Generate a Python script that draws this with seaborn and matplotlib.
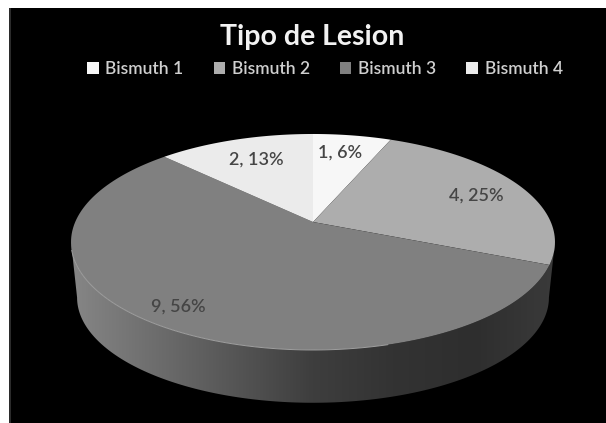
import matplotlib
matplotlib.use("Agg")
import matplotlib.pyplot as plt
import seaborn as sns
import numpy as np
from matplotlib.patches import Polygon, Rectangle
from matplotlib.transforms import Affine2D

sns.set_style("white")
plt.rcParams['font.family'] = ['Lato', 'DejaVu Sans']

categories = ["Bismuth 1", "Bismuth 2", "Bismuth 3", "Bismuth 4"]
values = [1, 4, 9, 2]
face_colors = ["#f7f7f7", "#adadad", "#808080", "#ebebeb"]
side_colors = ["#868686", "#6e6e6e", "#565656", "#3e3e3e", "#333333", "#2e2e2e", "#3a3a3a"]
label_pos = [(340, 153), (476, 196), (178, 307), (256, 160)]
title = "Tipo de Lesion"


def project(pts, cy=222.0, scale=1.0):
    # circle seen in perspective, near edge gets bigger
    k = 0.185
    w = 1 + k * pts[:, 1]
    x = 313 + 237.8 * scale * pts[:, 0] / w
    y = cy - 104.3 * scale * pts[:, 1] / w
    return np.column_stack([x, y])


fig = plt.figure(figsize=(6.06, 4.23), dpi=100, facecolor="white")
ax = fig.add_axes([0, 0, 1, 1])
ax.set_xlim(0, 606)
ax.set_ylim(423, 0)
ax.axis("off")
ax.add_patch(Rectangle((9, 8), 597, 415, color="black", lw=0))
ax.add_patch(Rectangle((9, 8), 2, 415, color="#2b2b2b", lw=0))

# let pie work out the slices on a scratch axes
fig2, ax2 = plt.subplots()
wedges, _ = ax2.pie(values, startangle=90, counterclock=False)

# side wall
t = np.linspace(np.pi + np.arcsin(0.185), 2 * np.pi - np.arcsin(0.185), 200)
arc = np.column_stack([np.cos(t), np.sin(t)])
wall = np.vstack([project(arc), project(arc, cy=278.0, scale=0.975)[::-1]])
wall_patch = Polygon(wall, closed=True, fc="none", ec="none")
ax.add_patch(wall_patch)
cmap = sns.blend_palette(side_colors, as_cmap=True)
im = ax.imshow(np.linspace(0, 1, 256)[None, :], cmap=cmap, extent=(71, 555, 405, 230),
               aspect="auto", zorder=2)
im.set_clip_path(wall_patch)
ax.set_xlim(0, 606)
ax.set_ylim(423, 0)

# top faces
handles = []
for w, c in zip(wedges, face_colors):
    path = w.get_patch_transform().transform_path(w.get_path())
    poly = path.to_polygons(Affine2D().scale(1000))[0] / 1000
    handles.append(ax.fill(*project(poly).T, color=c, lw=0, zorder=3)[0])

# pale rim on the front of the big slice
t = np.linspace(np.radians(195), np.radians(285), 100)
rim = project(np.column_stack([np.cos(t), np.sin(t)]))
ax.plot(rim[:, 0], rim[:, 1], color="#a0a0a0", lw=0.7, zorder=4)

total = sum(values)
for v, (x, y) in zip(values, label_pos):
    pct = int(100 * v / total + 0.5)
    ax.text(x, y, f"{v}, {pct}%", ha="center", va="center", fontsize=13,
            fontweight="semibold", color="#454545", zorder=5)

ax.text(312, 37, title, ha="center", va="center", fontsize=20.5, fontweight="bold",
        color="#f2f2f2", zorder=5)
leg = ax.legend(handles, categories, loc="center", bbox_to_anchor=(325 / 606, 1 - 69 / 423),
                ncol=4, frameon=False, prop={"size": 12.5, "weight": "semibold"},
                labelcolor="#cfcfcf", handlelength=0.65, handleheight=0.65,
                handletextpad=0.4, columnspacing=1.73, borderpad=0)
leg.set_zorder(5)

fig.savefig("out.png", dpi=100, facecolor="white")
